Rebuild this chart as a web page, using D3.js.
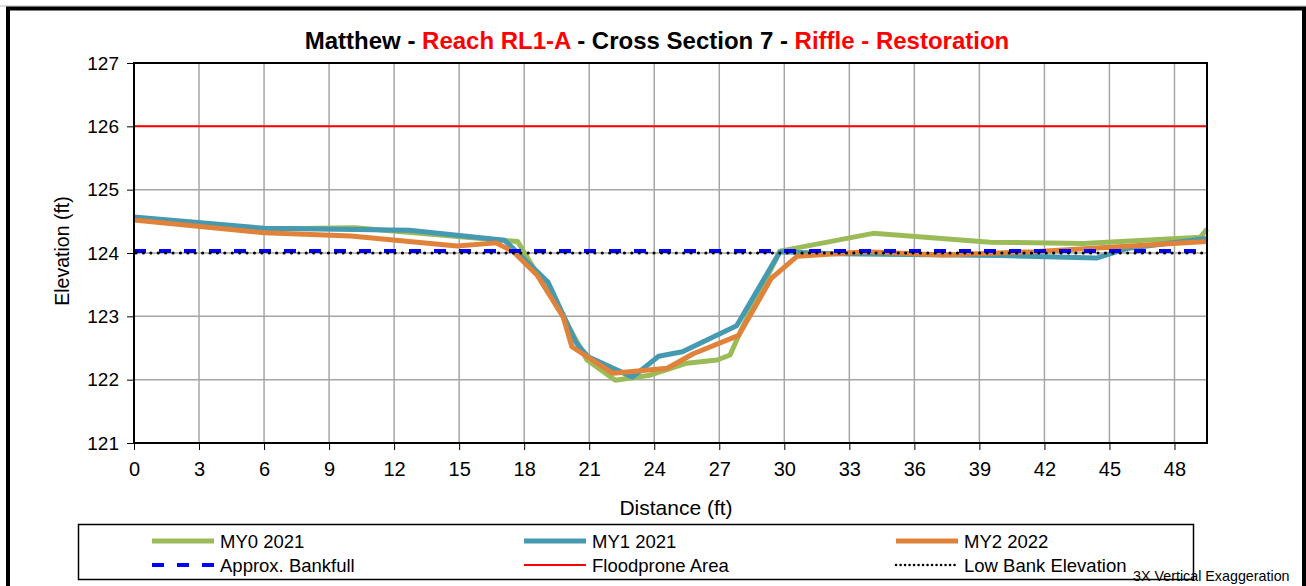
<!DOCTYPE html>
<html>
<head>
<meta charset="utf-8">
<script src="https://cdn.jsdelivr.net/npm/d3@7"></script>
<style>
  body { margin: 0; background: #fff; }
  text { font-family: "Liberation Sans", Arial, sans-serif; }
</style>
</head>
<body>
<div id="chart"></div>
<script>
// survey data (distance ft, elevation ft)
const my0Dist = [0, 6, 10.2, 17.7, 19.75, 20.9, 22.2, 23.8, 25.5, 26.9, 27.5, 28.0, 29.8, 34.1, 39.5, 43.8, 49.2, 49.5];
const my0Elev = [124.55, 124.38, 124.4, 124.18, 123.02, 122.31, 121.99, 122.07, 122.26, 122.31, 122.39, 122.78, 124.03, 124.31, 124.17, 124.15, 124.25, 124.38];

const my1Dist = [0, 6, 12.7, 17.1, 19.1, 20.4, 20.95, 23.0, 24.2, 25.3, 27.8, 29.8, 32.3, 40, 44.4, 45.8, 49.5];
const my1Elev = [124.57, 124.39, 124.36, 124.2, 123.54, 122.58, 122.36, 122.04, 122.37, 122.44, 122.85, 124.02, 123.99, 123.96, 123.92, 124.07, 124.23];

const my2Dist = [0, 6, 10, 14.9, 16.7, 17.5, 18.6, 19.8, 20.2, 22.1, 24.6, 25.8, 27.9, 29.4, 30.6, 33.8, 37.3, 41.5, 49.5];
const my2Elev = [124.52, 124.32, 124.27, 124.11, 124.16, 124.02, 123.65, 122.99, 122.52, 122.1, 122.18, 122.41, 122.7, 123.6, 123.95, 124.02, 123.97, 124.02, 124.18];

const bankfull = 124.03;
const floodprone = 126;
const lowBank = 124.0;

const xTicks = [0, 3, 6, 9, 12, 15, 18, 21, 24, 27, 30, 33, 36, 39, 42, 45, 48];
const yTicks = [121, 122, 123, 124, 125, 126, 127];

const W = 1306, H = 586;
const pL = 134, pR = 1207, pT = 63, pB = 443;

const svg = d3.select("#chart").append("svg")
  .attr("width", W).attr("height", H);

// outer frame of the figure
svg.append("line").attr("x1", 0).attr("x2", W).attr("y1", 6).attr("y2", 6)
  .attr("stroke", "#bbb").attr("stroke-width", 1);
svg.append("rect").attr("x", 8).attr("y", 8.5).attr("width", 1296).attr("height", 600)
  .attr("fill", "none").attr("stroke", "#000").attr("stroke-width", 4);

const x = d3.scaleLinear().domain([0, 49.5]).range([pL, pR]);
const y = d3.scaleLinear().domain([121, 127]).range([pB, pT]);

// gridlines
svg.append("g").selectAll("line").data(xTicks.slice(1)).join("line")
  .attr("x1", d => x(d)).attr("x2", d => x(d))
  .attr("y1", pT).attr("y2", pB)
  .attr("stroke", "#a6a6a6").attr("stroke-width", 1.5);
svg.append("g").selectAll("line").data(yTicks.slice(1, -1)).join("line")
  .attr("x1", pL).attr("x2", pR)
  .attr("y1", d => y(d)).attr("y2", d => y(d))
  .attr("stroke", "#a6a6a6").attr("stroke-width", 1.5);

// axes
const xAxis = d3.axisBottom(x).tickValues(xTicks).tickSize(7).tickPadding(12)
  .tickFormat(d3.format("d"));
const yAxis = d3.axisLeft(y).tickValues(yTicks).tickSize(7).tickPadding(8)
  .tickFormat(d3.format("d"));

const gx = svg.append("g").attr("transform", `translate(0,${pB})`).call(xAxis);
const gy = svg.append("g").attr("transform", `translate(${pL},0)`).call(yAxis);
[gx, gy].forEach(g => {
  g.select(".domain").remove();
  g.selectAll(".tick line").attr("stroke", "#000").attr("stroke-width", 1);
  g.selectAll(".tick text").attr("fill", "#000")
    .style("font-family", "'Liberation Sans', Arial, sans-serif");
});
gx.selectAll(".tick text").attr("font-size", 20);
gy.selectAll(".tick text").attr("font-size", 19);

// reference lines
svg.append("line").attr("x1", pL).attr("x2", pR)
  .attr("y1", y(floodprone)).attr("y2", y(floodprone))
  .attr("stroke", "#ff0000").attr("stroke-width", 2);

const line = d3.line().x(d => x(d[0])).y(d => y(d[1]));
const pairs = (ds, es) => ds.map((d, i) => [d, es[i]]);

const series = [
  { name: "MY0 2021", data: pairs(my0Dist, my0Elev), color: "#9bbb59" },
  { name: "MY1 2021", data: pairs(my1Dist, my1Elev), color: "#4599b0" },
  { name: "MY2 2022", data: pairs(my2Dist, my2Elev), color: "#e0823a" }
];

series.forEach(s => {
  svg.append("path").datum(s.data).attr("d", line)
    .attr("fill", "none").attr("stroke", s.color)
    .attr("stroke-width", 5).attr("stroke-linejoin", "round");
});

svg.append("line").attr("x1", pL).attr("x2", pR)
  .attr("y1", y(bankfull)).attr("y2", y(bankfull))
  .attr("stroke", "#0000ff").attr("stroke-width", 4)
  .attr("stroke-dasharray", "12 13");
svg.append("line").attr("x1", pL + 2).attr("x2", pR)
  .attr("y1", y(lowBank)).attr("y2", y(lowBank))
  .attr("stroke", "#000").attr("stroke-width", 3)
  .attr("stroke-linecap", "round").attr("stroke-dasharray", "0.1 7.3");

// plot border
svg.append("rect").attr("x", pL).attr("y", pT)
  .attr("width", pR - pL).attr("height", pB - pT)
  .attr("fill", "none").attr("stroke", "#000").attr("stroke-width", 2);

// title
const title = svg.append("text").attr("x", 657).attr("y", 49)
  .attr("text-anchor", "middle").attr("font-size", 24).attr("font-weight", "bold");
[["Matthew - ", "#000"], ["Reach RL1-A", "#ff0000"], [" - Cross Section 7 - ", "#000"],
 ["Riffle - Restoration", "#ff0000"]].forEach(p => {
  title.append("tspan").text(p[0]).attr("fill", p[1]);
});

// axis titles
svg.append("text").attr("x", 676).attr("y", 515).attr("text-anchor", "middle")
  .attr("font-size", 21).text("Distance (ft)");
svg.append("text").attr("transform", "translate(69,251) rotate(-90)")
  .attr("text-anchor", "middle").attr("font-size", 19.5).text("Elevation (ft)");

// legend
svg.append("rect").attr("x", 78.5).attr("y", 524.5).attr("width", 1115).attr("height", 55)
  .attr("fill", "#fff").attr("stroke", "#000").attr("stroke-width", 1.5);

const legendItems = [
  { name: "MY0 2021", color: "#9bbb59", w: 5, dash: null, col: 0, row: 0 },
  { name: "MY1 2021", color: "#4599b0", w: 5, dash: null, col: 1, row: 0 },
  { name: "MY2 2022", color: "#e0823a", w: 5, dash: null, col: 2, row: 0 },
  { name: "Approx. Bankfull", color: "#0000ff", w: 4, dash: "12 13", col: 0, row: 1 },
  { name: "Floodprone Area", color: "#ff0000", w: 2, dash: null, col: 1, row: 1 },
  { name: "Low Bank Elevation", color: "#000", w: 2.5, dash: "0.1 4.4", col: 2, row: 1 }
];
const colX = [152, 524, 896];
const rowY = [541, 565];
const lg = svg.append("g").selectAll("g").data(legendItems).join("g")
  .attr("transform", d => `translate(${colX[d.col]},${rowY[d.row]})`);
lg.append("line").attr("x1", 0).attr("x2", 62).attr("y1", 0).attr("y2", 0)
  .attr("stroke", d => d.color).attr("stroke-width", d => d.w)
  .attr("stroke-dasharray", d => d.dash)
  .attr("stroke-linecap", d => d.dash && d.dash.startsWith("0.1") ? "round" : "butt");
lg.append("text").attr("x", 68).attr("y", 6.5).attr("font-size", 18.5).text(d => d.name);

svg.append("text").attr("x", 1133).attr("y", 581).attr("font-size", 14.3)
  .text("3X Vertical Exaggeration");
</script>
</body>
</html>
